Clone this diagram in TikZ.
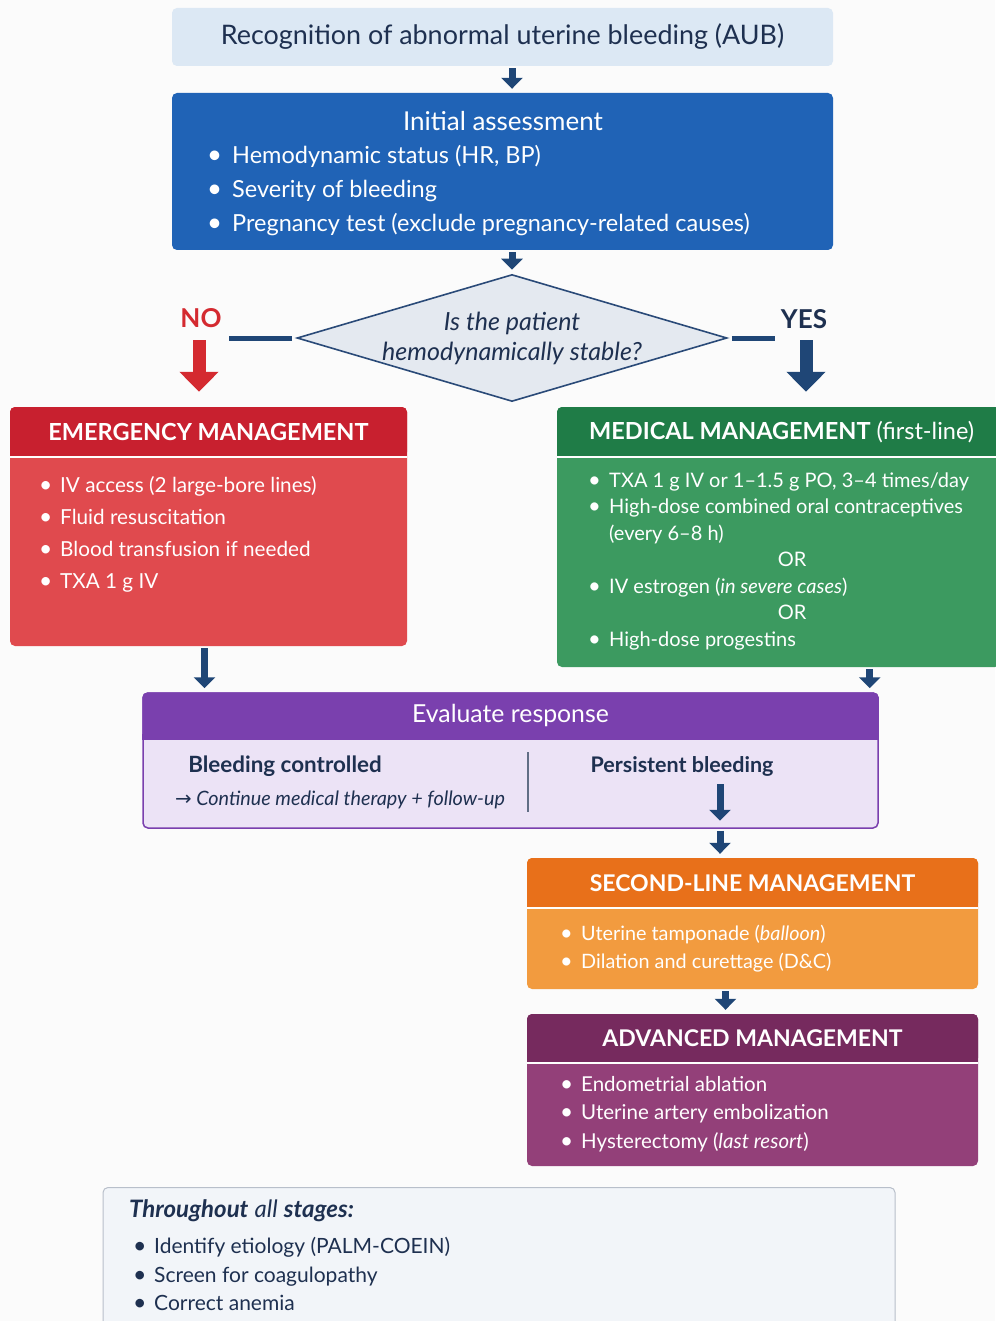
\documentclass[tikz,border=0pt]{standalone}
\usepackage{fontspec}
\setmainfont{Lato}
\newfontfamily\arrowfont{DejaVu Sans}
\usetikzlibrary{shapes.geometric, arrows.meta}

\definecolor{navyText}{HTML}{1E3050}
\definecolor{arrowNavy}{HTML}{1F4676}
\definecolor{topFill}{HTML}{DCE8F4}
\definecolor{initBlue}{HTML}{2063B6}
\definecolor{diaFill}{HTML}{E4E9F0}
\definecolor{diaDraw}{HTML}{2A4A78}
\definecolor{noRed}{HTML}{D42A30}
\definecolor{emergHead}{HTML}{C8202F}
\definecolor{emergBody}{HTML}{E04A4E}
\definecolor{medHead}{HTML}{1F7C47}
\definecolor{medBody}{HTML}{3C9A60}
\definecolor{evalHead}{HTML}{7A40AE}
\definecolor{evalBody}{HTML}{ECE3F6}
\definecolor{secHead}{HTML}{E8701A}
\definecolor{secBody}{HTML}{F29B3F}
\definecolor{advHead}{HTML}{762A5E}
\definecolor{advBody}{HTML}{934079}
\definecolor{footFill}{HTML}{F2F5F9}
\definecolor{footDraw}{HTML}{B8BFCA}

\newcommand{\blt}[1][19pt]{\makebox[#1][l]{\hspace{-2pt}\scalebox{1.1}{\textbullet}}}

\begin{document}
\begin{tikzpicture}[
        x=1pt, y=-1pt,
        % Box Styles
        plainBox/.style = {rectangle, rounded corners=5pt, inner sep=0pt},
        headBox/.style = {rectangle, rounded corners=5pt, inner sep=0pt, anchor=north, text=white, font=\bfseries\fontsize{23.5}{28}\selectfont},
        listText/.style = {anchor=west, align=left, inner sep=0pt, text=white, font=\fontsize{20.7}{32}\selectfont},
        navyLabel/.style = {text=navyText, inner sep=0pt},
        sepLine/.style = {draw=white, line width=1.6pt},
        % Arrow Styles
        flowArrow/.style = {-{Triangle[length=11pt, width=21pt]}, line width=7pt, draw=arrowNavy, shorten <=2pt, shorten >=4pt},
        branchArrow/.style = {-{Triangle[length=20pt, width=38pt]}, line width=13pt, shorten >=15pt},
        branchLine/.style = {draw=arrowNavy, line width=5pt, shorten <=4pt}
    ]
    \useasboundingbox (0,0) rectangle (995,1321);
    \fill[gray!3] (0,0) rectangle (995,1321);

    % ==========================================
    % RECOGNITION + INITIAL ASSESSMENT
    % ==========================================
    \node[plainBox, fill=topFill, minimum width=661pt, minimum height=58pt, text=navyText, font=\fontsize{26.9}{30}\selectfont] (Recog) at (502.5,37) {Recognition of abnormal uterine bleeding (AUB)};

    \node[plainBox, fill=initBlue, minimum width=661pt, minimum height=157pt] (Init) at (502.5,171.5) {};
    \node[text=white, inner sep=0pt, font=\fontsize{26}{30}\selectfont] (InitTtl) at (503,121) {Initial assessment};
    \node[listText, font=\fontsize{23.5}{34}\selectfont] (InitList) at (209,191) {\blt[23pt]Hemodynamic status (HR, BP)\\ \blt[23pt]Severity of bleeding\\ \blt[23pt]Pregnancy test (exclude pregnancy-related causes)};

    % ==========================================
    % DECISION: STABLE?
    % ==========================================
    \node[diamond, draw=diaDraw, fill=diaFill, line width=1.6pt, minimum width=430pt, minimum height=127pt, inner sep=0pt] (Stable) at (512,338) {};
    \node[navyLabel, align=center, font=\itshape\fontsize{25}{30}\selectfont] (StableTxt) at (Stable.center) {Is the patient\\hemodynamically stable?};

    \node[inner sep=0pt, text=noRed, font=\bfseries\fontsize{26}{30}\selectfont] (NoLbl) at (201,318) {NO};
    \node[navyLabel, font=\bfseries\fontsize{26}{30}\selectfont] (YesLbl) at (804,319) {YES};

    % ==========================================
    % EMERGENCY / MEDICAL MANAGEMENT
    % ==========================================
    \node[plainBox, fill=emergBody, minimum width=397pt, minimum height=239pt] (Emerg) at (208.5,526.5) {};
    \node[headBox, fill=emergHead, minimum width=397pt, minimum height=50pt] (EmergHd) at (Emerg.north) {EMERGENCY MANAGEMENT};
    \node[listText] (EmergList) at (41,534) {\blt IV access (2 large-bore lines)\\ \blt Fluid resuscitation\\ \blt Blood transfusion if needed\\ \blt TXA 1 g IV};

    \node[plainBox, fill=medBody, minimum width=443pt, minimum height=260pt] (Med) at (778.5,537) {};
    \node[headBox, fill=medHead, minimum width=443pt, minimum height=50pt] (MedHd) at (Med.north) {};
    \node[text=white, anchor=west, inner sep=0pt, font=\fontsize{23.5}{28}\selectfont] (MedTtl) at (589,432) {\textbf{MEDICAL MANAGEMENT} (first-line)};
    \node[listText, font=\fontsize{20}{26.5}\selectfont] (MedList) at (590,561) {\blt TXA 1 g IV or 1--1.5 g PO, 3--4 times/day\\ \blt High-dose combined oral contraceptives\\ \hspace*{19pt}(every 6--8 h)\\ \makebox[404pt][c]{OR}\\ \blt IV estrogen (\textit{in severe cases})\\ \makebox[404pt][c]{OR}\\ \blt High-dose progestins};

    % ==========================================
    % EVALUATE RESPONSE
    % ==========================================
    \node[plainBox, fill=evalBody, draw=evalHead, line width=1.5pt, minimum width=735pt, minimum height=135pt] (Eval) at (510.5,760.5) {};
    \node[headBox, fill=evalHead, font=\fontsize{24.8}{28}\selectfont, minimum width=736.5pt, minimum height=47pt] (EvalHd) at (Eval.north) {Evaluate response};
    \node[navyLabel, font=\bfseries\fontsize{22.4}{26}\selectfont] (Ctrl) at (285,766) {Bleeding controlled};
    \node[navyLabel, font=\itshape\fontsize{19.8}{24}\selectfont] (Cont) at (340,800) {{\arrowfont\upshape →} Continue medical therapy + follow-up};
    \node[navyLabel, font=\bfseries\fontsize{21.5}{26}\selectfont] (Persist) at (682,766) {Persistent bleeding};
    \draw[navyText!70, line width=1.2pt] (528,752) -- (528,812);

    % ==========================================
    % SECOND-LINE / ADVANCED
    % ==========================================
    \node[plainBox, fill=secBody, minimum width=451pt, minimum height=131pt] (Sec) at (752.5,923.5) {};
    \node[headBox, fill=secHead, font=\bfseries\fontsize{23}{28}\selectfont, minimum width=451pt, minimum height=50pt] (SecHd) at (Sec.north) {SECOND-LINE MANAGEMENT};
    \node[listText, font=\fontsize{19.8}{28}\selectfont] (SecList) at (562,949) {\blt Uterine tamponade (\textit{balloon})\\ \blt Dilation and curettage (D\&C)};

    \node[plainBox, fill=advBody, minimum width=451pt, minimum height=152pt] (Adv) at (752.5,1090) {};
    \node[headBox, fill=advHead, font=\bfseries\fontsize{23}{28}\selectfont, minimum width=451pt, minimum height=49pt] (AdvHd) at (Adv.north) {ADVANCED MANAGEMENT};
    \node[listText, font=\fontsize{20.5}{28.5}\selectfont] (AdvList) at (562,1114) {\blt Endometrial ablation\\ \blt Uterine artery embolization\\ \blt Hysterectomy (\textit{last resort})};

    % header bottoms squared off, then white rules
    \foreach \hd/\col in {EmergHd/emergHead, MedHd/medHead, EvalHd/evalHead, SecHd/secHead, AdvHd/advHead}
        \fill[\col] ([yshift=6pt]\hd.south west) rectangle (\hd.south east);
    \foreach \hd in {EmergHd, MedHd, SecHd, AdvHd}
        \draw[sepLine] (\hd.south west) -- (\hd.south east);

    % ==========================================
    % THROUGHOUT ALL STAGES
    % ==========================================
    \node[plainBox, fill=footFill, draw=footDraw, line width=1pt, minimum width=792pt, minimum height=160pt, anchor=north] (Foot) at (499,1187) {};
    \node[navyLabel, anchor=west, font=\fontsize{24}{28}\selectfont] (FootTtl) at (129,1211) {\textbf{\textit{Throughout}} \textit{all} \textbf{\textit{stages:}}};
    \node[listText, text=navyText, font=\fontsize{21}{28.5}\selectfont] (FootList) at (135,1274) {\blt Identify etiology (PALM-COEIN)\\ \blt Screen for coagulopathy\\ \blt Correct anemia};

    % ==========================================
    % CONNECTORS
    % ==========================================
    \path[flowArrow] (Recog.south -| Stable.north) -- (Init.north -| Stable.north);
    \path[flowArrow] (Init.south -| Stable.north) -- (Stable.north);

    \coordinate (NoEnd) at (229,338);
    \coordinate (YesEnd) at (775,338);
    \path[branchLine] (Stable.west) -- (NoEnd);
    \path[branchLine] (Stable.east) -- (YesEnd);

    \coordinate (NoTop) at (199,340);
    \coordinate (YesTop) at (806,340);
    \draw[branchArrow, noRed] (NoTop) -- (NoTop |- Emerg.north);
    \draw[branchArrow, arrowNavy] (YesTop) -- (YesTop |- Med.north);

    \coordinate (EmergOut) at ([xshift=-4pt]Emerg.south);
    \coordinate (MedOut) at ([xshift=-9pt]Eval.north east);
    \path[flowArrow] (EmergOut) -- (EmergOut |- Eval.north);
    \path[flowArrow] (MedOut |- Med.south) -- (MedOut);

    \coordinate (PersistOut) at (720,782);
    \path[flowArrow, shorten >=8pt] (PersistOut) -- (PersistOut |- Eval.south);
    \path[flowArrow] (PersistOut |- Eval.south) -- (PersistOut |- Sec.north);

    \coordinate (SecOut) at ([xshift=-27pt]Sec.south);
    \path[flowArrow] (SecOut) -- (SecOut |- Adv.north);

\end{tikzpicture}
\end{document}
